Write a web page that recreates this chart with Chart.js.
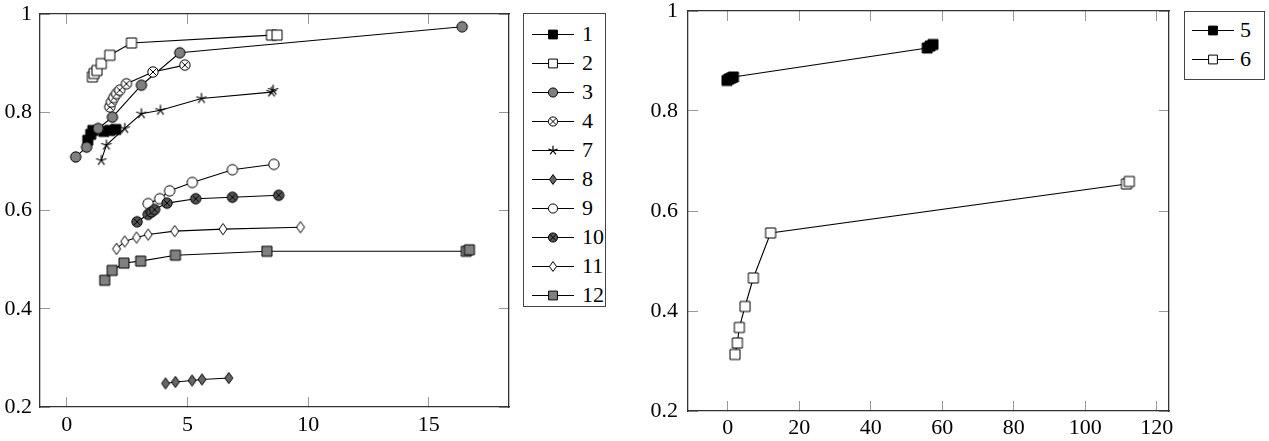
<!DOCTYPE html>
<html><head><meta charset="utf-8">
<script src="https://cdn.jsdelivr.net/npm/chart.js@4"></script>
<style>
body{margin:0;background:#fff;width:1269px;height:441px;overflow:hidden;position:relative;}
canvas.ch{position:absolute;top:0;}
.lbox{position:absolute;border:1px solid #444;background:#fff;box-sizing:border-box;}
.lt{position:absolute;line-height:24px;height:24px;color:#000;}
.li{position:absolute;}
</style></head>
<body>
<canvas id="c1" class="ch" width="520" height="441" style="left:0px"></canvas>
<canvas id="c2" class="ch" width="540" height="441" style="left:640px"></canvas>
<script>
// ---- data ----
const s1x=[0.87,0.99,1.08,1.53,1.78,2.03];
const s1y=[0.743,0.755,0.763,0.761,0.763,0.765];
const s2x=[1.06,1.13,1.25,1.43,1.78,2.68,8.48,8.71];
const s2y=[0.872,0.879,0.885,0.899,0.916,0.941,0.957,0.957];
const s3x=[0.37,0.82,1.30,1.89,3.09,4.68,16.38];
const s3y=[0.709,0.729,0.767,0.790,0.855,0.921,0.974];
const s4x=[1.78,1.85,1.95,2.06,2.19,2.47,3.57,4.89];
const s4y=[0.811,0.821,0.830,0.838,0.845,0.858,0.882,0.896];
const s7x=[1.43,1.64,2.40,3.09,3.88,5.58,8.48,8.55];
const s7y=[0.702,0.733,0.767,0.797,0.804,0.828,0.841,0.845];
const s8x=[4.09,4.50,5.19,5.60,6.71];
const s8y=[0.248,0.251,0.254,0.256,0.259];
const s9x=[3.37,3.85,4.26,5.20,6.86,8.58];
const s9y=[0.614,0.624,0.640,0.657,0.683,0.694];
const s10x=[2.91,3.37,3.51,3.64,4.15,5.34,6.86,8.78];
const s10y=[0.577,0.592,0.597,0.602,0.615,0.624,0.627,0.631];
const s11x=[2.06,2.40,2.89,3.37,4.47,6.47,9.68];
const s11y=[0.522,0.537,0.545,0.551,0.558,0.562,0.566];
const s12x=[1.57,1.88,2.37,3.06,4.50,8.29,16.55,16.68];
const s12y=[0.458,0.478,0.493,0.497,0.509,0.517,0.517,0.520];
const s5x=[-0.2,0.4,1.0,1.6,55.8,56.6,57.4];
const s5y=[0.861,0.864,0.866,0.868,0.926,0.930,0.933];
const s6x=[2.04,2.69,3.25,4.84,7.17,12.0,111.5,112.3];
const s6y=[0.313,0.336,0.367,0.409,0.466,0.556,0.654,0.659];

const leftNames=['1','2','3','4','7','8','9','10','11','12'];
const rightNames=['5','6'];
const leftXTicks=[0,5,10,15];
const rightXTicks=[0,20,40,60,80,100,120];
const yTicks=[0.2,0.4,0.6,0.8,1];

// ---- marker styles ----
const markerOf={
 '1':['sq','#000'],'2':['sq','#fff'],'3':['circ','#808080'],'4':['otimes','#fff'],
 '7':['star',null],'8':['diamond','#666'],'9':['circ','#fff'],'10':['otimes','#555'],
 '11':['diamond','#fff'],'12':['sq','#808080'],'5':['sq','#000'],'6':['sq','#fff']
};
function drawMarker(ctx,type,fill,cx,cy,s){
  ctx.save();ctx.strokeStyle='#000';ctx.lineWidth=1;
  if(type==='sq'){const h=5*s;ctx.beginPath();ctx.rect(cx-h,cy-h,2*h,2*h);ctx.fillStyle=fill;ctx.fill();ctx.stroke();}
  else if(type==='circ'){ctx.beginPath();ctx.arc(cx,cy,5.2*s,0,Math.PI*2);ctx.fillStyle=fill;ctx.fill();ctx.stroke();}
  else if(type==='otimes'){const r=5.2*s;ctx.beginPath();ctx.arc(cx,cy,r,0,Math.PI*2);ctx.fillStyle=fill;ctx.fill();ctx.stroke();
    const d=r*Math.SQRT1_2;ctx.beginPath();ctx.moveTo(cx-d,cy-d);ctx.lineTo(cx+d,cy+d);ctx.moveTo(cx-d,cy+d);ctx.lineTo(cx+d,cy-d);ctx.stroke();}
  else if(type==='diamond'){const w=4*s,h=5.6*s;ctx.beginPath();ctx.moveTo(cx,cy-h);ctx.lineTo(cx+w,cy);ctx.lineTo(cx,cy+h);ctx.lineTo(cx-w,cy);ctx.closePath();ctx.fillStyle=fill;ctx.fill();ctx.stroke();}
  else if(type==='star'){const r=5.5*s;ctx.lineWidth=1.2;ctx.beginPath();for(let k=0;k<5;k++){const a=-Math.PI/2+k*2*Math.PI/5;ctx.moveTo(cx,cy);ctx.lineTo(cx+r*Math.cos(a),cy+r*Math.sin(a));}ctx.stroke();}
  ctx.restore();
}
function markerCanvas(name,s){
  const c=document.createElement('canvas');c.width=18;c.height=18;
  const [t,f]=markerOf[name];drawMarker(c.getContext('2d'),t,f,9,9,s);return c;
}
function ds(name,xs,ys,i,n){
  return {label:name,data:xs.map((x,k)=>({x:x,y:ys[k]})),showLine:true,borderColor:'#000',borderWidth:1.1,
    pointStyle:markerCanvas(name,1),pointRadius:6,order:n-i};
}
let FAM="'DejaVu Serif', serif", FS=19;
function pickFont(){
  const c=document.createElement('canvas').getContext('2d');
  c.font='40px monospace';const w0=c.measureText('0.8 Wiggly 123').width;
  c.font="40px 'Liberation Serif', monospace";const w1=c.measureText('0.8 Wiggly 123').width;
  if(Math.abs(w1-w0)>1){FAM="'Liberation Serif', serif";FS=22;}
}
function axisX(min,max,ticks,pos,h,pad){
  return {type:'linear',position:pos,min:min,max:max,
    afterBuildTicks:a=>{a.ticks=ticks.map(v=>({value:v}));},
    afterFit:s=>{s.height=h;s.paddingLeft=0;s.paddingRight=0;s.paddingTop=0;s.paddingBottom=0;},
    grid:{drawOnChartArea:false,drawTicks:true,tickLength:-10,tickColor:'#999',tickWidth:1},
    border:{display:true,color:'#333',width:1.3},
    ticks:{display:pos==='bottom',padding:pad,autoSkip:false,maxRotation:0,color:'#000',font:{family:FAM,size:FS},callback:v=>String(v)}};
}
function axisY(pos,w,pad){
  return {type:'linear',position:pos,min:0.2,max:1,
    afterBuildTicks:a=>{a.ticks=yTicks.map(v=>({value:v}));},
    afterFit:s=>{s.width=w;s.paddingLeft=0;s.paddingRight=0;s.paddingTop=0;s.paddingBottom=0;},
    grid:{drawOnChartArea:false,drawTicks:true,tickLength:-10,tickColor:'#999',tickWidth:1},
    border:{display:true,color:'#333',width:1.3},
    ticks:{display:pos==='left',padding:pad,autoSkip:false,color:'#000',font:{family:FAM,size:FS},callback:v=>String(v)}};
}
function makeChart(id,datasets,xmin,xmax,xt,yw,ypad,pad,xh,xpad){
  return new Chart(document.getElementById(id),{type:'scatter',data:{datasets:datasets},
    options:{responsive:false,animation:false,
      layout:{padding:pad},
      plugins:{legend:{display:false},tooltip:{enabled:false}},
      scales:{x:axisX(xmin,xmax,xt,'bottom',xh,xpad),x2:axisX(xmin,xmax,xt,'top',0,0),
              y:axisY('left',yw,ypad),y2:axisY('right',0,0)}}});
}
function legend(names,box,firstY,step,lineL,textL){
  const b=document.createElement('div');b.className='lbox';
  b.style.left=box[0]+'px';b.style.top=box[1]+'px';b.style.width=(box[2]-box[0])+'px';b.style.height=(box[3]-box[1])+'px';
  document.body.appendChild(b);
  names.forEach((n,i)=>{
    const cy=firstY+step*i;
    const c=document.createElement('canvas');c.width=42;c.height=18;c.className='li';
    c.style.left=lineL+'px';c.style.top=(cy-9)+'px';
    const ctx=c.getContext('2d');ctx.strokeStyle='#000';ctx.lineWidth=1;
    ctx.beginPath();ctx.moveTo(0,9.5);ctx.lineTo(42,9.5);ctx.stroke();
    const [t,f]=markerOf[n];drawMarker(ctx,t,f,21,9.5,0.88);
    document.body.appendChild(c);
    const s=document.createElement('span');s.className='lt';s.textContent=n;
    s.style.fontFamily=FAM;s.style.fontSize=FS+'px';
    s.style.left=textL+'px';s.style.top=(cy-12)+'px';document.body.appendChild(s);
  });
}
function draw(){
  pickFont();
  const L=[[s1x,s1y],[s2x,s2y],[s3x,s3y],[s4x,s4y],[s7x,s7y],[s8x,s8y],[s9x,s9y],[s10x,s10y],[s11x,s11y],[s12x,s12y]];
  const leftDs=L.map((p,i)=>ds(leftNames[i],p[0],p[1],i,L.length));
  const R=[[s5x,s5y],[s6x,s6y]];
  const rightDs=R.map((p,i)=>ds(rightNames[i],p[0],p[1],i,R.length));
  makeChart('c1',leftDs,-1.11,18.32,leftXTicks,40,18,{top:14,right:11,left:0,bottom:0},34,15);
  makeChart('c2',rightDs,-11.1,123.4,rightXTicks,48,20,{top:11,right:11,left:0,bottom:0},30,14);
  legend(leftNames,[523,13,606,307],34,29,532,582);
  legend(rightNames,[1184,11,1265,80],30,29.3,1192,1240);
}
Promise.all([document.fonts.load("22px 'Liberation Serif'"),document.fonts.load("19px 'DejaVu Serif'")])
  .catch(()=>{}).then(draw);
</script>
</body></html>
